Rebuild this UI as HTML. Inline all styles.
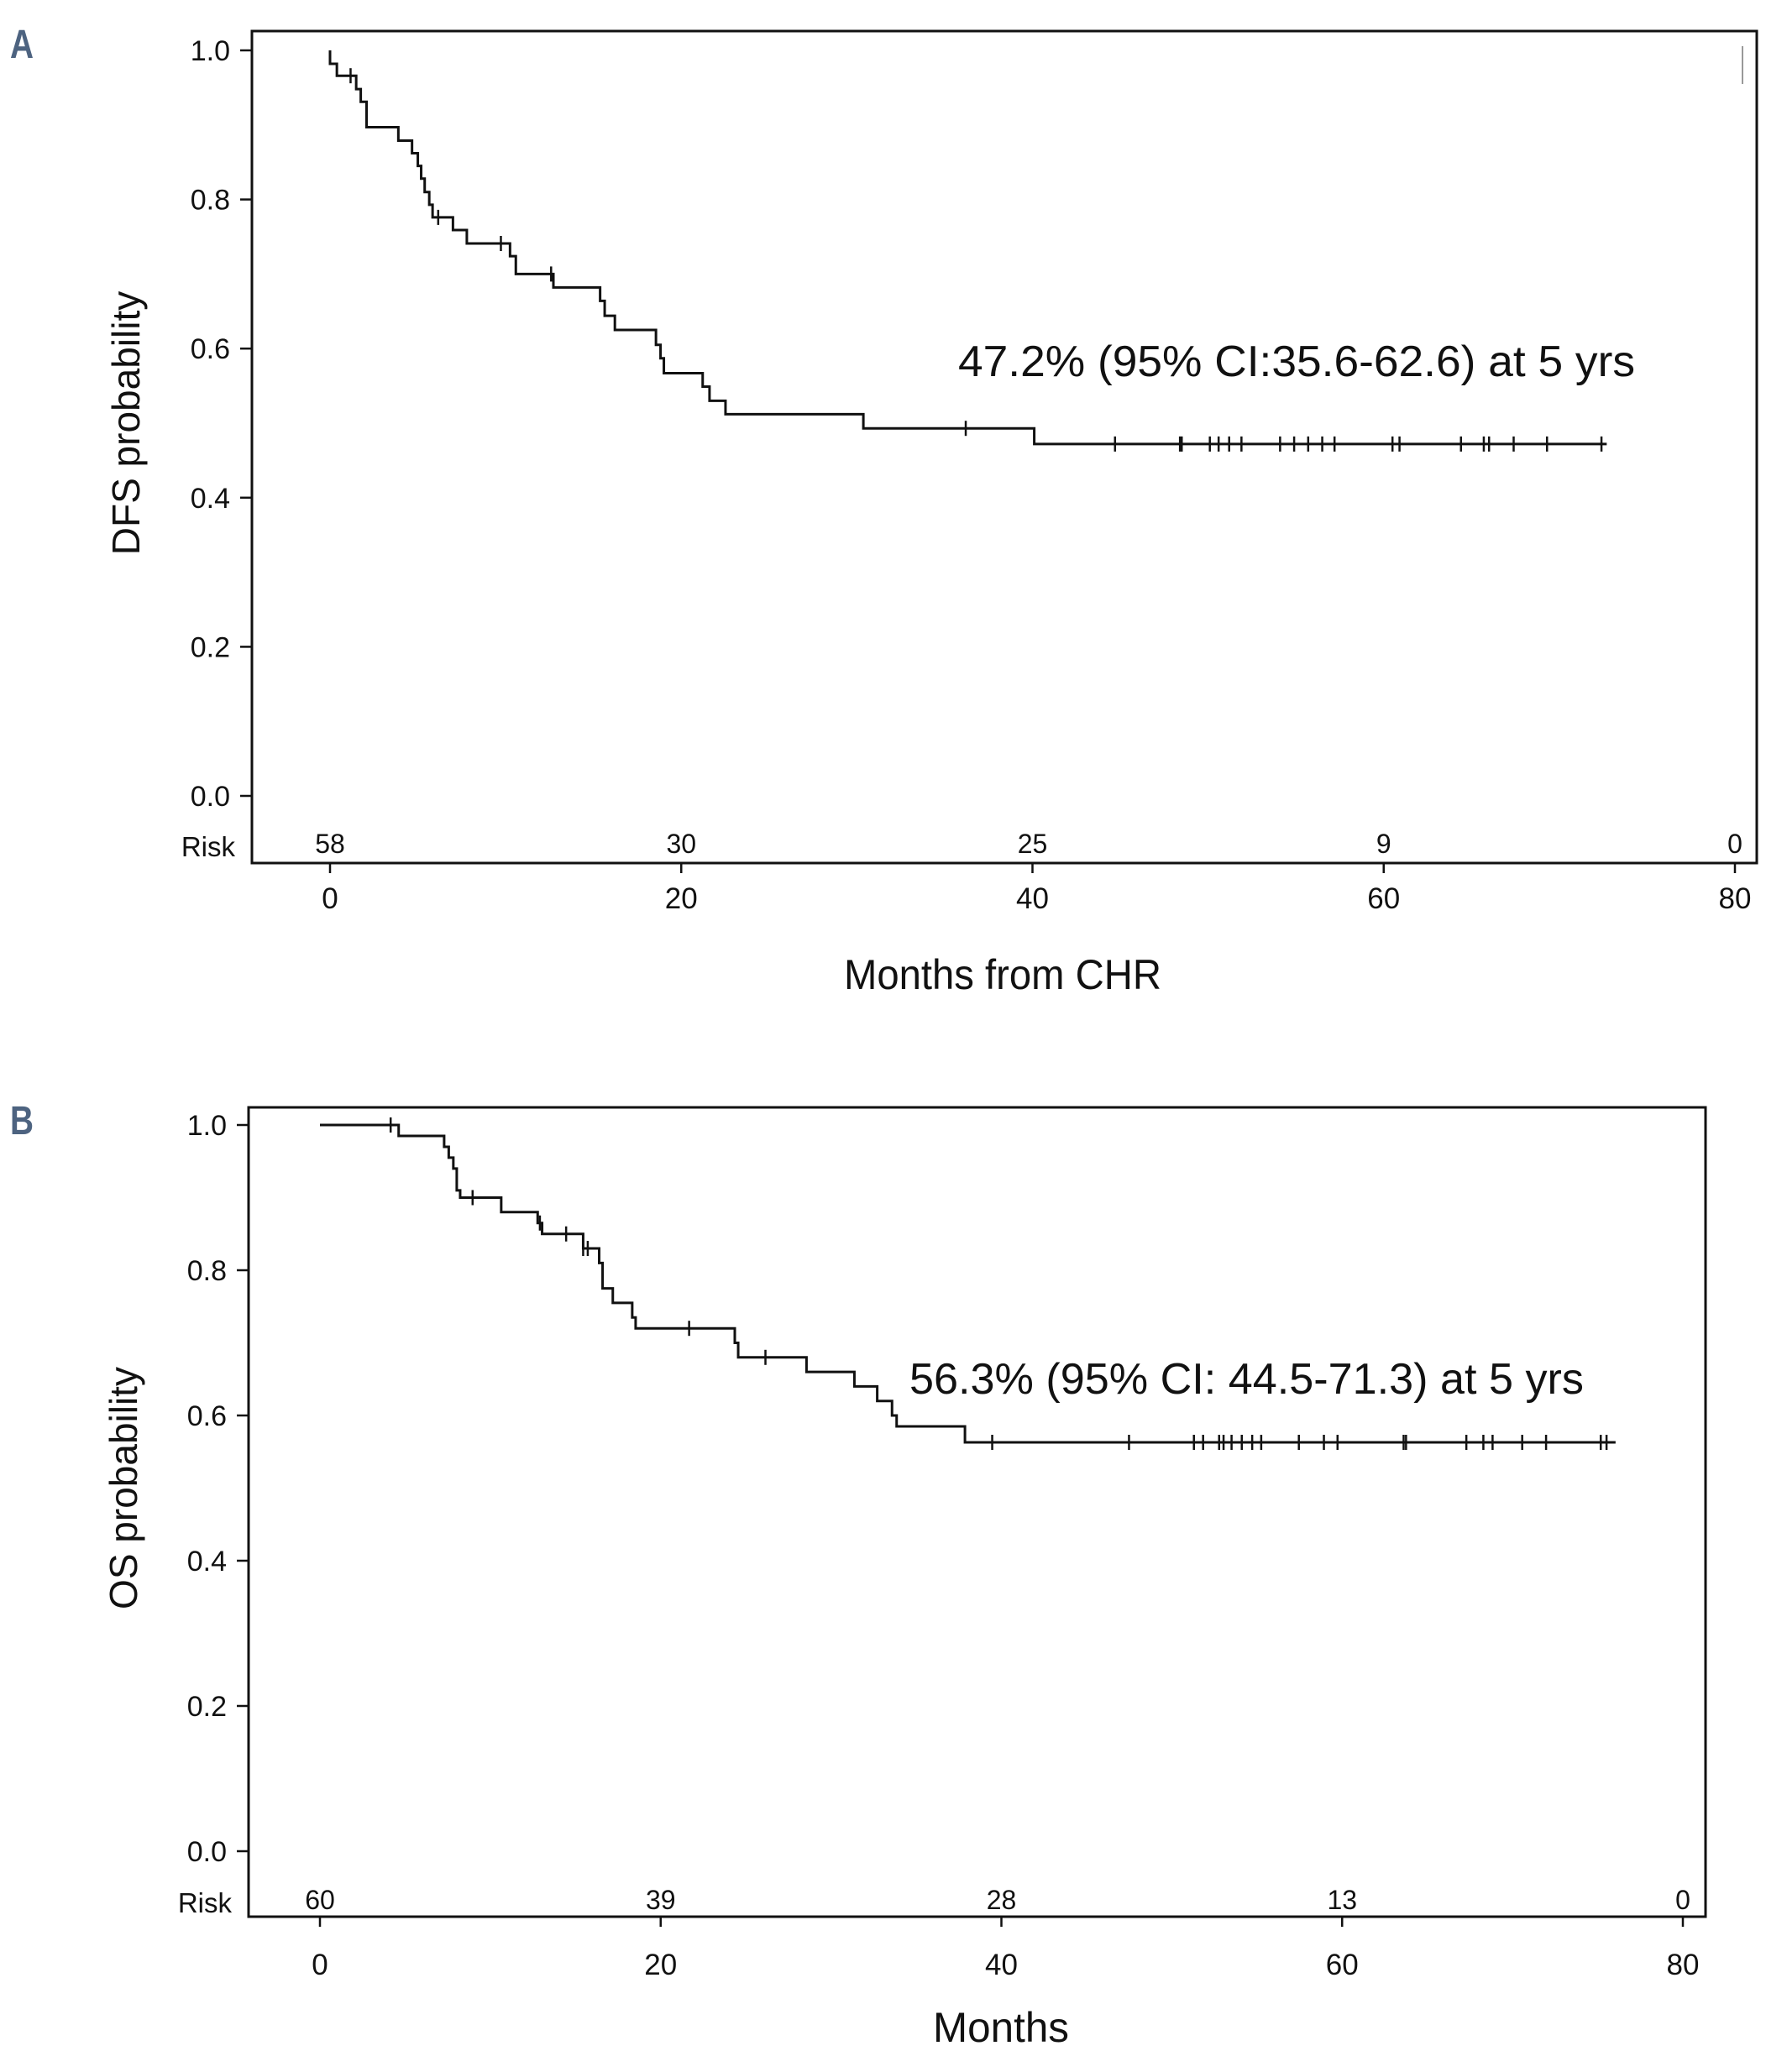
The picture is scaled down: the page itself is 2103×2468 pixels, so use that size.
<!DOCTYPE html>
<html><head><meta charset="utf-8"><style>
html,body{margin:0;padding:0;background:#fff;}
svg{display:block;}
text{font-family:"Liberation Sans",sans-serif;fill:#111;}
</style></head><body>
<svg id="fig" width="2103" height="2468" viewBox="0 0 2103 2468"></svg>
<script>
// Panel A data (DFS): step times and survival after each step
const aStepTimes=[0,0.39,1.49,1.75,2.08,3.89,4.67,5.0,5.19,5.39,5.65,5.84,7.0,7.79,10.25,10.58,12.72,15.38,15.64,16.22,18.56,18.82,19.01,21.22,21.61,22.52,30.37,40.1];
const aStepSurv=[0.982,0.966,0.948,0.931,0.897,0.879,0.862,0.845,0.828,0.81,0.793,0.776,0.759,0.741,0.724,0.70,0.682,0.664,0.644,0.625,0.605,0.587,0.567,0.549,0.53,0.512,0.493,0.472];
const aEnd=72.7;
const aCensor=[1.17,6.16,9.73,12.59,36.2,44.7,48.4,48.5,50.1,50.6,51.2,51.9,54.1,54.9,55.7,56.5,57.2,60.5,60.9,64.4,65.7,66.0,67.4,69.3,72.4];
const aRisk=[58,30,25,9,0];
// Panel B data (OS)
const bStepTimes=[4.62,7.29,7.56,7.83,8.03,8.23,10.64,12.78,13.04,15.45,16.39,16.59,17.19,18.33,18.53,24.35,24.55,28.56,31.37,32.71,33.58,33.85,37.86];
const bStepSurv=[0.985,0.97,0.955,0.94,0.91,0.90,0.88,0.865,0.85,0.83,0.81,0.775,0.755,0.735,0.72,0.70,0.68,0.66,0.64,0.62,0.60,0.585,0.563];
const bEnd=76.05;
const bCensor=[4.15,8.96,12.91,14.45,15.45,15.72,21.67,26.15,39.46,47.49,51.3,51.84,52.78,53.04,53.51,54.11,54.72,55.25,57.46,58.93,59.73,63.61,63.75,67.29,68.29,68.83,70.57,71.97,75.18,75.52];
const bRisk=[60,39,28,13,0];
const xTicks=[0,20,40,60,80];
const yTicks=[0,0.2,0.4,0.6,0.8,1.0];

const NS='http://www.w3.org/2000/svg';
const svg=document.getElementById('fig');
function mk(tag,attrs,parent,txt){const e=document.createElementNS(NS,tag);for(const k in attrs)e.setAttribute(k,attrs[k]);if(txt!==undefined)e.textContent=txt;(parent||svg).appendChild(e);return e;}

function panel(p,times,surv,endT,cens,risk){
  const g=mk('g',{});
  
  
  const X=t=>p.x0+(p.x80-p.x0)*t/80;
  const Y=s=>p.y0+(p.y1-p.y0)*s;
  const fr=mk('rect',{x:p.L,y:p.T,width:p.R-p.L,height:p.B-p.T,fill:'none',stroke:'#111','stroke-width':3},g);
  
  
  yTicks.forEach(v=>{
    const l=mk('line',{x1:p.L-14,x2:p.L,y1:Y(v),y2:Y(v),stroke:'#111','stroke-width':2.5},g);
    
    
    const t=mk('text',{x:p.L-26,y:Y(v)+12,'font-size':34,'text-anchor':'end'},g,v.toFixed(1));
    
    
  });
  xTicks.forEach((v,i)=>{
    const l=mk('line',{x1:X(v),x2:X(v),y1:p.B,y2:p.B+12,stroke:'#111','stroke-width':2.5},g);
    
    
    const t=mk('text',{x:X(v),y:p.xlab,'font-size':35,'text-anchor':'middle'},g,String(v));
    
    
    const r=mk('text',{x:X(v),y:p.risk,'font-size':32,'text-anchor':'middle'},g,String(risk[i]));
    
    
  });
  const rl=mk('text',{x:p.L-20,y:p.risk+4,'font-size':33,'text-anchor':'end'},g,'Risk');
  
  
  let d='M'+X(0)+','+Y(1);
  for(let i=0;i<times.length;i++){d+=' H'+X(times[i])+' V'+Y(surv[i]);}
  d+=' H'+X(endT);
  const c=mk('path',{d:d,fill:'none',stroke:'#111','stroke-width':3},g);
  
  
  const sAt=t=>{let s=1;for(let i=0;i<times.length;i++){if(times[i]<=t)s=surv[i];}return s;};
  cens.forEach(t=>{
    const y=Y(sAt(t));
    const l=mk('line',{x1:X(t),x2:X(t),y1:y-9,y2:y+9,stroke:'#111','stroke-width':2.5},g);
    
    
  });
  const at=mk('text',{x:p.annX,y:p.annY,'font-size':52,textLength:p.annW,lengthAdjust:'spacingAndGlyphs'},g,p.ann);
  
  
  const xt=mk('text',{x:p.xtx,y:p.xtitle,'font-size':50,'text-anchor':'middle',textLength:p.xtw,lengthAdjust:'spacingAndGlyphs'},g,p.xt);
  
  
  const yc=(p.y1+p.y0)/2;
  const yt=mk('text',{x:0,y:0,'font-size':46,'text-anchor':'middle',transform:'translate('+(p.ytx)+','+yc+') rotate(-90)'},g,p.yt);
  
  
  const pl=mk('text',{x:12,y:p.T+32,'font-size':48,'font-weight':'bold',textLength:28,lengthAdjust:'spacingAndGlyphs',style:'fill:#4d6380'},g,p.letter);
  
  
}
panel({name:'panel-a-dfs',L:300,T:37,R:2092,B:1028,x0:393,x80:2066,y0:948,y1:60,xlab:1082,risk:1016,xtitle:1178,ytx:166,xtx:1194,xtw:378,
  ann:'47.2% (95% CI:35.6-62.6) at 5 yrs',annX:1141,annY:448,annW:806,xt:'Months from CHR',yt:'DFS probability',letter:'A'},
  aStepTimes,aStepSurv,aEnd,aCensor,aRisk);
panel({name:'panel-b-os',L:296,T:1319,R:2031,B:2283,x0:381,x80:2004,y0:2205,y1:1340,xlab:2352,risk:2274,xtitle:2432,ytx:163,xtx:1192,xtw:162,
  ann:'56.3% (95% CI: 44.5-71.3) at 5 yrs',annX:1083,annY:1660,annW:803,xt:'Months',yt:'OS probability',letter:'B'},
  bStepTimes,bStepSurv,bEnd,bCensor,bRisk);
const bl=mk('line',{x1:2075,x2:2075,y1:55,y2:100,stroke:'#999','stroke-width':2});


</script>
</body></html>
